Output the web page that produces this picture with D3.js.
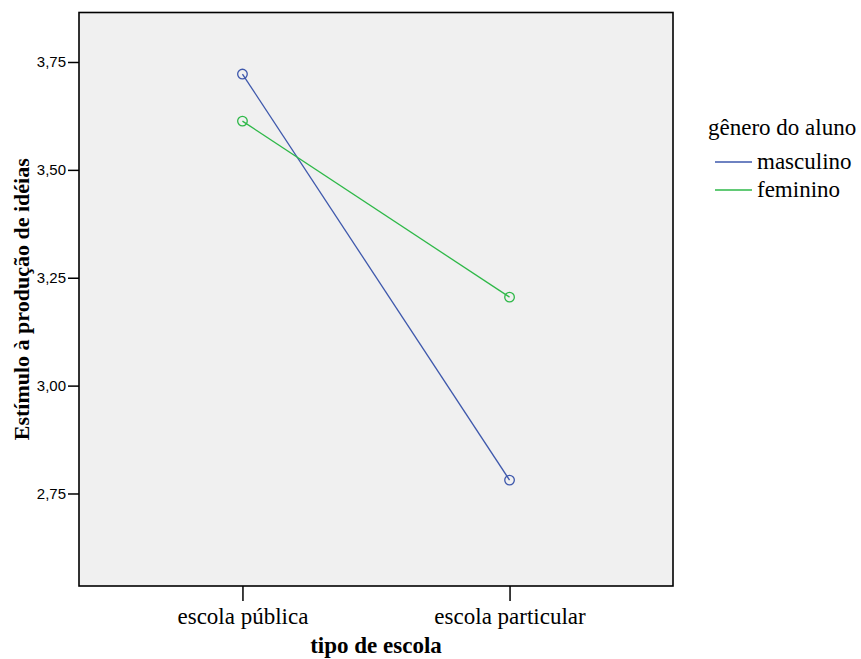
<!DOCTYPE html>
<html><head><meta charset="utf-8">
<script src="https://cdn.jsdelivr.net/npm/d3@7"></script>
<style>body{margin:0;background:#fff}</style>
</head><body>
<svg id="c" width="861" height="659"></svg>
<script>
const categories = ["escola pública", "escola particular"];
const seriesNames = ["masculino", "feminino"];
const masculino = [3.722, 2.781];
const feminino = [3.613, 3.205];
const yTicks = [2.75, 3.00, 3.25, 3.50, 3.75];
const colors = ["#3e58ac", "#2eb848"];

const SERIF = "'Liberation Serif', 'Times New Roman', serif";
const SANS = "'Liberation Sans', Arial, sans-serif";

const svg = d3.select("#c");
const L = 79, T = 12.5, R = 673, B = 586;
const x = d3.scalePoint().domain(categories).range([L, R]).padding(0.612);
const y = d3.scaleLinear().domain([2.5356, 3.8647]).range([B, T]);

svg.append("rect").attr("x", L).attr("y", T).attr("width", R - L).attr("height", B - T)
  .attr("fill", "#f0f0f0");

const yAxis = d3.axisLeft(y).tickValues(yTicks).tickSize(11).tickPadding(2)
  .tickFormat(d => d3.format(".2f")(d).replace(".", ","));
const gy = svg.append("g").attr("transform", `translate(${L},0)`).call(yAxis)
  .attr("font-family", SANS).attr("font-size", 15);
gy.select(".domain").remove();
gy.selectAll("line").attr("stroke", "#000").attr("stroke-width", 1.5);
gy.selectAll("text").attr("fill", "#000");

const xAxis = d3.axisBottom(x).tickSize(15).tickPadding(7);
const gx = svg.append("g").attr("transform", `translate(0,${B})`).call(xAxis)
  .attr("font-family", SERIF).attr("font-size", 23);
gx.select(".domain").remove();
gx.selectAll("line").attr("stroke", "#000").attr("stroke-width", 1.5);
gx.selectAll("text").attr("fill", "#000");

svg.append("rect").attr("x", L).attr("y", T).attr("width", R - L).attr("height", B - T)
  .attr("fill", "none").attr("stroke", "#000").attr("stroke-width", 1.6);

const series = [masculino, feminino];
const line = d3.line().x((d, i) => x(categories[i])).y(d => y(d));
series.forEach((s, k) => {
  svg.append("path").datum(s).attr("d", line).attr("fill", "none")
    .attr("stroke", colors[k]).attr("stroke-width", 1.3);
  svg.selectAll(null).data(s).enter().append("circle")
    .attr("cx", (d, i) => x(categories[i])).attr("cy", d => y(d)).attr("r", 4.8)
    .attr("fill", "none").attr("stroke", colors[k]).attr("stroke-width", 1.3);
});

svg.append("text").attr("font-family", SERIF).attr("x", (L + R) / 2).attr("y", 653).attr("text-anchor", "middle")
  .attr("font-weight", "bold").attr("font-size", 23).text("tipo de escola");
svg.append("text").attr("font-family", SERIF).attr("transform", `translate(29,${(T + B) / 2}) rotate(-90)`).attr("text-anchor", "middle")
  .attr("font-weight", "bold").attr("font-size", 22).text("Estímulo à produção de idéias");

const lg = svg.append("g").attr("font-family", SERIF).attr("font-size", 23);
lg.append("text").attr("x", 708).attr("y", 135).text("gênero do aluno");
seriesNames.forEach((n, k) => {
  const yy = 162 + k * 28;
  lg.append("line").attr("x1", 715).attr("x2", 752).attr("y1", yy).attr("y2", yy)
    .attr("stroke", colors[k]).attr("stroke-width", 1.3);
  lg.append("text").attr("x", 757).attr("y", yy + 7).text(n);
});
</script>
</body></html>
